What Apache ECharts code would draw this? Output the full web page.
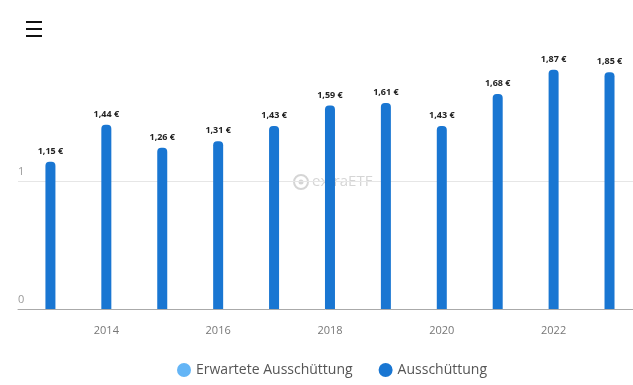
<!DOCTYPE html>
<html>
<head>
<meta charset="utf-8">
<script src="https://cdn.jsdelivr.net/npm/echarts@6/dist/echarts.min.js"></script>
<style>html,body{margin:0;padding:0;background:#fff}#c{width:633px;height:385px}</style>
</head>
<body>
<div id="c"></div>
<script>
var years = [2013, 2014, 2015, 2016, 2017, 2018, 2019, 2020, 2021, 2022, 2023];
var payouts = [1.15, 1.44, 1.26, 1.31, 1.43, 1.59, 1.61, 1.43, 1.68, 1.87, 1.85];
var expected = [];
var xTickLabels = [2014, 2016, 2018, 2020, 2022];
var yTicks = [0, 1];

var font = 'Open Sans';
var chart = echarts.init(document.getElementById('c'));
chart.setOption({
  animation: false,
  textStyle: { fontFamily: font },
  grid: { left: 18, right: 0, top: 53, bottom: 76 },
  legend: {
    bottom: 3, left: 172, icon: 'circle', itemWidth: 14, itemHeight: 14, itemGap: 26,
    textStyle: { color: '#555', fontSize: 14, fontFamily: font },
    data: ['Erwartete Ausschüttung', 'Ausschüttung']
  },
  xAxis: {
    type: 'value', min: 2012.42, max: 2023.42,
    axisLine: { show: true, lineStyle: { color: '#aaa' } },
    axisTick: { show: false },
    splitLine: { show: false },
    axisLabel: { customValues: xTickLabels, color: '#777', fontSize: 11, margin: 16, formatter: function (v) { return String(v); } }
  },
  yAxis: {
    type: 'value', min: 0, max: 2, interval: 1,
    axisLine: { show: false }, axisTick: { show: false },
    splitLine: { show: true, lineStyle: { color: ['transparent', '#e6e6e6', 'transparent'] } },
    axisLabel: {
      inside: true, margin: 0, verticalAlign: 'bottom', color: '#999', fontSize: 11,
      padding: [0, 0, 4, 0], showMaxLabel: false,
      formatter: function (v) { return yTicks.indexOf(v) >= 0 ? String(v) : ''; }
    }
  },
  graphic: [
    { type: 'rect', shape: { x: 26, y: 21, width: 16, height: 2 }, style: { fill: '#111' } },
    { type: 'rect', shape: { x: 26, y: 28, width: 16, height: 2 }, style: { fill: '#111' } },
    { type: 'rect', shape: { x: 26, y: 35, width: 16, height: 2 }, style: { fill: '#111' } },
    { type: 'circle', shape: { cx: 301, cy: 182, r: 7 }, style: { fill: 'none', stroke: '#d5d5d5', lineWidth: 2 }, z: 0 },
    { type: 'circle', shape: { cx: 301, cy: 182, r: 2.5 }, style: { fill: '#d5d5d5' }, z: 0 },
    { type: 'text', x: 312, y: 182, style: { text: 'extraETF', fill: '#d5d5d5', fontSize: 15, fontFamily: font, verticalAlign: 'middle' }, z: 0 }
  ],
  series: [
    { name: 'Erwartete Ausschüttung', type: 'bar', data: expected, itemStyle: { color: '#64b5f6' }, barWidth: 10 },
    {
      name: 'Ausschüttung', type: 'bar', barWidth: 10, barGap: '-100%',
      data: years.map(function (y, i) { return [y, payouts[i]]; }),
      itemStyle: { color: '#1976d2', borderRadius: [4, 4, 0, 0] },
      label: {
        show: true, position: 'top', distance: 6, color: '#222', fontSize: 9, fontWeight: 'bold', fontFamily: font,
        formatter: function (p) { return p.value[1].toFixed(2).replace('.', ',') + ' €'; }
      }
    }
  ]
});
</script>
</body>
</html>
